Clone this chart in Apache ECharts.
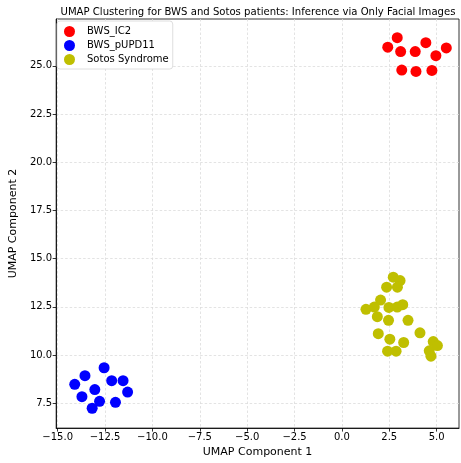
<!DOCTYPE html>
<html>
<head>
<meta charset="utf-8">
<script src="https://cdn.jsdelivr.net/npm/echarts@6/dist/echarts.min.js"></script>
<style>html,body{margin:0;padding:0;background:#fff}#c{width:461px;height:463px}</style>
</head>
<body>
<div id="c"></div>
<script>
const seriesNames = ['BWS_IC2', 'BWS_pUPD11', 'Sotos Syndrome'];
const bwsIC2 = [[2.92,26.46],[2.42,25.97],[3.10,25.74],[3.87,25.74],[4.43,26.20],[4.96,25.53],[5.51,25.93],[3.16,24.78],[3.91,24.71],[4.75,24.76]];
const bwsPUPD11 = [[-12.55,9.34],[-13.56,8.93],[-14.10,8.48],[-12.15,8.67],[-11.55,8.67],[-13.04,8.21],[-11.31,8.08],[-13.72,7.84],[-12.79,7.60],[-11.95,7.55],[-13.18,7.24]];
const sotos = [[2.71,14.04],[3.07,13.86],[2.36,13.52],[2.93,13.52],[2.04,12.85],[1.27,12.37],[1.71,12.49],[2.48,12.47],[2.92,12.49],[3.21,12.61],[1.87,11.99],[2.46,11.80],[3.49,11.80],[1.92,11.11],[2.53,10.82],[4.12,11.15],[3.26,10.65],[4.82,10.70],[5.04,10.49],[2.41,10.20],[2.86,10.20],[4.61,10.22],[4.70,9.94]];
const xTicks = [-15,-12.5,-10,-7.5,-5,-2.5,0,2.5,5];
const yTicks = [7.5,10,12.5,15,17.5,20,22.5,25];
const colors = ['#ff0000','#0000ff','#bfbf00'];

const fmt = v => (v < 0 ? '\u2212' : '') + Math.abs(v).toFixed(1);
const font = 'DejaVu Sans';
function axis(name, min, max, ticks, gap) {
  return {
    type: 'value', min: min, max: max, name: name, nameLocation: 'middle', nameGap: gap,
    nameTextStyle: {fontFamily: font, fontSize: 11, color: '#000'},
    axisLine: {show: true, onZero: false, lineStyle: {color: '#000', width: 0.8}},
    axisTick: {show: true, length: 3.5, inside: false, customValues: ticks, lineStyle: {color: '#000', width: 0.8}},
    axisLabel: {customValues: ticks, formatter: fmt, fontFamily: font, fontSize: 10, color: '#000', margin: 4},
    splitLine: {show: true, lineStyle: {color: '#dcdcdc', type: [2.5, 2], width: 0.8}}
  };
}
const chart = echarts.init(document.getElementById('c'), null, {renderer: 'canvas'});
chart.setOption({
  animation: false,
  backgroundColor: '#fff',
  title: {text: 'UMAP Clustering for BWS and Sotos patients: Inference via Only Facial Images', left: 253, textAlign: 'center', top: 2,
    textStyle: {fontFamily: font, fontSize: 10.1, fontWeight: 'normal', color: '#000'}},
  grid: {left: 53, right: 2, top: 19, bottom: 33, show: true, borderColor: '#000', borderWidth: 0.8, containLabel: false},
  xAxis: axis('UMAP Component 1', -15.08, 6.18, xTicks, 16),
  yAxis: axis('UMAP Component 2', 6.21, 27.43, yTicks, 31),
  legend: {orient: 'vertical', left: 57, top: 21, itemWidth: 11, itemHeight: 11, itemGap: 3,
    backgroundColor: '#fff', borderColor: '#d5d5d5', borderWidth: 0.8, borderRadius: 3, padding: [5, 4, 4, 7],
    textStyle: {fontFamily: font, fontSize: 10, color: '#000', padding: [0, 0, 0, 7]},
    data: seriesNames.map(n => ({name: n, icon: 'circle'}))},
  series: [bwsIC2, bwsPUPD11, sotos].map((d, i) => ({
    name: seriesNames[i], type: 'scatter', data: d, symbolSize: 11,
    itemStyle: {color: colors[i], opacity: 1}
  }))
});
</script>
</body>
</html>
